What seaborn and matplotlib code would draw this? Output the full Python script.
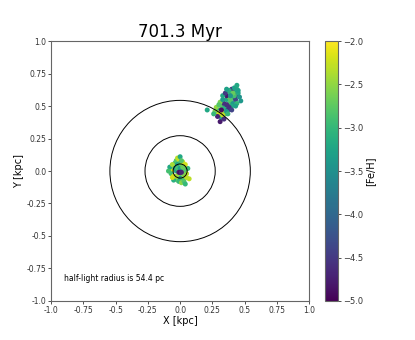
import matplotlib
matplotlib.use('Agg')
import matplotlib.pyplot as plt
import seaborn as sns
import pandas as pd
from matplotlib.patches import Circle
from matplotlib.cm import ScalarMappable
from matplotlib.colors import Normalize

title = '701.3 Myr'
half_light_pc = 54.4
circle_factors = [1, 5, 10]
tick_vals = [-1.0, -0.75, -0.5, -0.25, 0.0, 0.25, 0.5, 0.75, 1.0]
tick_labels = ['-1.0', '-0.75', '-0.5', '-0.25', '0.0', '0.25', '0.5', '0.75', '1.0']
cbar_ticks = [-2.0, -2.5, -3.0, -3.5, -4.0, -4.5, -5.0]

# central body
core_x = [-0.05, -0.04, -0.06, -0.03, -0.02, -0.01, 0.00, 0.01, 0.02, 0.03, 0.04, 0.05,
          -0.07, -0.08, -0.05, -0.04, -0.02, 0.00, 0.02, 0.03, 0.05, 0.06, -0.03, -0.01,
          0.01, 0.03, -0.06, -0.04, -0.02, 0.00, 0.02, 0.04, -0.05, -0.03, -0.01, 0.01,
          0.03, -0.02, 0.00, 0.02, 0.07, -0.09, 0.04, -0.06, 0.01, -0.01, 0.00, 0.01]
core_y = [0.04, 0.06, 0.01, 0.08, 0.05, 0.09, 0.06, 0.04, 0.07, 0.03, 0.01, -0.02,
          -0.02, 0.03, -0.04, -0.06, -0.07, -0.05, -0.06, -0.03, -0.05, 0.02, 0.00, -0.02,
          0.00, 0.00, 0.05, 0.02, 0.02, 0.02, -0.02, 0.05, -0.07, -0.04, -0.08, -0.09,
          -0.08, 0.10, 0.11, 0.03, -0.06, 0.00, -0.10, -0.05, 0.08, -0.01, -0.01, -0.01]
core_feh = [-2.4, -3.1, -2.2, -2.8, -3.3, -2.2, -3.0, -2.7, -2.3, -3.2, -2.6, -2.3,
            -2.9, -3.2, -2.2, -3.1, -2.6, -3.4, -2.9, -2.4, -2.3, -3.0, -3.2, -2.6,
            -4.6, -2.8, -2.4, -3.3, -2.9, -3.3, -2.6, -2.2, -3.1, -2.4, -3.0, -2.5,
            -2.8, -2.3, -3.2, -2.7, -2.3, -2.9, -3.0, -2.2, -2.8, -4.8, -4.9, -4.7]

# tidal debris to the upper right
stream_x = [0.30, 0.32, 0.34, 0.36, 0.38, 0.40, 0.42, 0.44, 0.33, 0.35, 0.37, 0.39,
            0.41, 0.43, 0.45, 0.31, 0.33, 0.36, 0.38, 0.40, 0.42, 0.29, 0.31, 0.34,
            0.36, 0.39, 0.41, 0.43, 0.28, 0.30, 0.32, 0.35, 0.37, 0.40, 0.44, 0.46,
            0.27, 0.29, 0.33, 0.36, 0.38, 0.42, 0.45, 0.21, 0.31, 0.34, 0.37, 0.40,
            0.43, 0.47, 0.30, 0.33, 0.35, 0.38, 0.41, 0.26, 0.32, 0.39, 0.36, 0.44]
stream_y = [0.47, 0.50, 0.52, 0.55, 0.57, 0.59, 0.61, 0.63, 0.46, 0.49, 0.51, 0.53,
            0.56, 0.58, 0.60, 0.53, 0.55, 0.58, 0.61, 0.63, 0.64, 0.45, 0.43, 0.48,
            0.51, 0.55, 0.52, 0.55, 0.49, 0.44, 0.41, 0.44, 0.47, 0.50, 0.52, 0.57,
            0.46, 0.42, 0.43, 0.46, 0.49, 0.58, 0.62, 0.47, 0.38, 0.40, 0.44, 0.47,
            0.50, 0.54, 0.51, 0.58, 0.60, 0.62, 0.60, 0.44, 0.47, 0.58, 0.63, 0.66]
stream_feh = [-3.3, -2.8, -4.6, -3.2, -2.7, -4.5, -3.4, -3.1, -2.3, -3.5, -4.7, -2.9,
              -3.3, -4.6, -3.2, -2.6, -3.4, -4.8, -3.0, -4.5, -3.3, -2.4, -4.7, -3.1,
              -4.6, -2.8, -3.4, -4.4, -2.5, -2.2, -3.3, -2.7, -4.5, -3.2, -3.0, -3.5,
              -2.6, -4.7, -2.3, -3.4, -4.6, -2.9, -3.3, -3.2, -4.8, -4.6, -3.0, -4.4,
              -3.3, -3.4, -2.8, -3.2, -4.5, -3.1, -2.7, -3.0, -4.9, -3.5, -3.3, -3.2]

df = pd.DataFrame({
    'x': stream_x + core_x,
    'y': stream_y + core_y,
    'feh': stream_feh + core_feh,
})

sns.set_theme(style='ticks')
plt.rcParams['font.family'] = ['DejaVu Sans']
plt.rcParams['text.color'] = 'black'
plt.rcParams['axes.labelcolor'] = 'black'
plt.rcParams['xtick.color'] = '#333333'
plt.rcParams['ytick.color'] = '#333333'

fig = plt.figure(figsize=(4.15, 3.4), dpi=100)
ax = fig.add_axes([0.123, 0.115, 0.622, 0.764])
cax = fig.add_axes([0.783, 0.115, 0.031, 0.764])

norm = Normalize(vmin=-5, vmax=-2)
sns.scatterplot(data=df, x='x', y='y', hue='feh', palette='viridis', hue_norm=(-5, -2),
                s=13, linewidth=0, legend=False, ax=ax)

# circles at 1, 5 and 10 half-light radii
r_kpc = half_light_pc / 1000.0
for f in circle_factors:
    ax.add_patch(Circle((0, 0), f * r_kpc, fill=False, edgecolor='black', lw=0.7, zorder=5))

ax.set_xlim(-1, 1)
ax.set_ylim(-1, 1)
ax.set_xticks(tick_vals)
ax.set_xticklabels(tick_labels)
ax.set_yticks(tick_vals)
ax.set_yticklabels(tick_labels)
ax.tick_params(labelsize=5.5, length=2, width=0.6, pad=1.5)
ax.set_xlabel('X [kpc]', fontsize=7, labelpad=1)
ax.set_ylabel('Y [kpc]', fontsize=7, labelpad=2)
ax.set_title(title, fontsize=12, pad=2, color='black')
for sp in ax.spines.values():
    sp.set_color('#666666')
    sp.set_linewidth(0.8)
ax.text(-0.9, -0.85, f'half-light radius is {half_light_pc} pc', fontsize=5.5)

sm = ScalarMappable(norm=norm, cmap='viridis')
cb = fig.colorbar(sm, cax=cax, ticks=cbar_ticks)
cb.ax.tick_params(labelsize=6, length=2, width=0.6, pad=1.5)
cb.set_label('[Fe/H]', fontsize=7, labelpad=2)
cb.outline.set_edgecolor('#666666')
cb.outline.set_linewidth(0.8)

plt.savefig('out.png', dpi=100)
plt.close()
